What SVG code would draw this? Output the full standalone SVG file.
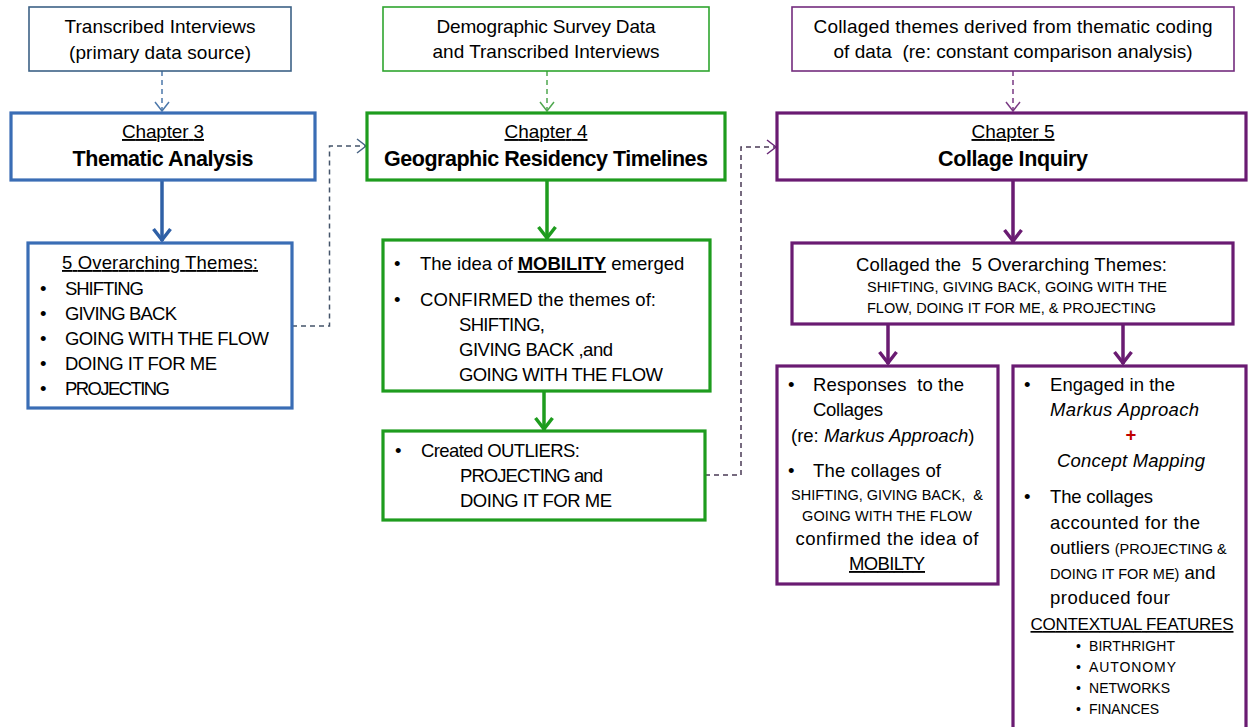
<svg xmlns="http://www.w3.org/2000/svg" width="1249" height="727" viewBox="0 0 1249 727">
<style>
text{font-family:"Liberation Sans",Arial,sans-serif;fill:#000;white-space:pre;}
.t19{font-size:19px;}
.t18{font-size:18.5px;}
.sm{font-size:14.5px;}
.xs{font-size:14px;}
.ttl{font-size:21.5px;font-weight:bold;}
.ch{font-size:19px;}
.c{text-anchor:middle;}
.u{text-decoration:underline;}
.i{font-style:italic;}
.b{font-weight:bold;}
.thinB{fill:#fff;stroke:#3d6286;stroke-width:1.6;}
.thinG{fill:#fff;stroke:#2fa52f;stroke-width:1.6;}
.thinP{fill:#fff;stroke:#742c7e;stroke-width:1.6;}
.boxB{fill:#fff;stroke:#3a6db5;stroke-width:3.2;}
.boxG{fill:#fff;stroke:#1e9c1e;stroke-width:3.2;}
.boxP{fill:#fff;stroke:#6a1b72;stroke-width:3.2;}
.dash{fill:none;stroke-width:1.5;stroke-dasharray:5 4;}
.thick{fill:none;stroke-width:3.5;}
</style>
<defs>
<marker id="vB" markerUnits="userSpaceOnUse" markerWidth="16" markerHeight="16" viewBox="0 0 16 16" refX="14" refY="8" orient="auto"><path d="M5,1 L14,8 L5,15" fill="none" stroke="#4c78ab" stroke-width="1.5"/></marker>
<marker id="vG" markerUnits="userSpaceOnUse" markerWidth="16" markerHeight="16" viewBox="0 0 16 16" refX="14" refY="8" orient="auto"><path d="M5,1 L14,8 L5,15" fill="none" stroke="#4fa84f" stroke-width="1.5"/></marker>
<marker id="vP" markerUnits="userSpaceOnUse" markerWidth="16" markerHeight="16" viewBox="0 0 16 16" refX="14" refY="8" orient="auto"><path d="M5,1 L14,8 L5,15" fill="none" stroke="#7a3a84" stroke-width="1.5"/></marker>
<marker id="vS" markerUnits="userSpaceOnUse" markerWidth="16" markerHeight="16" viewBox="0 0 16 16" refX="14" refY="8" orient="auto"><path d="M5,1 L14,8 L5,15" fill="none" stroke="#4a6585" stroke-width="1.5"/></marker>
<marker id="vD" markerUnits="userSpaceOnUse" markerWidth="16" markerHeight="16" viewBox="0 0 16 16" refX="14" refY="8" orient="auto"><path d="M5,1 L14,8 L5,15" fill="none" stroke="#6a2a78" stroke-width="1.5"/></marker>
<marker id="kB" markerUnits="userSpaceOnUse" markerWidth="24" markerHeight="24" viewBox="0 0 24 24" refX="21" refY="12" orient="auto"><path d="M9,3.5 L20,12 L9,20.5" fill="none" stroke="#2f60a6" stroke-width="3.5"/></marker>
<marker id="kG" markerUnits="userSpaceOnUse" markerWidth="24" markerHeight="24" viewBox="0 0 24 24" refX="21" refY="12" orient="auto"><path d="M9,3.5 L20,12 L9,20.5" fill="none" stroke="#1e9c1e" stroke-width="3.5"/></marker>
<marker id="kP" markerUnits="userSpaceOnUse" markerWidth="24" markerHeight="24" viewBox="0 0 24 24" refX="21" refY="12" orient="auto"><path d="M9,3.5 L20,12 L9,20.5" fill="none" stroke="#6a1b72" stroke-width="3.5"/></marker>
</defs>

<g id="connectors">
<path class="dash" stroke="#4c78ab" d="M162,71 V111" marker-end="url(#vB)"/>
<path class="thick" stroke="#2f60a6" d="M162,181 V241" marker-end="url(#kB)"/>
<path class="dash" stroke="#44546a" d="M292,326 H329.5 V146 H366" marker-end="url(#vS)"/>
<path class="dash" stroke="#4fa84f" d="M547,71 V111" marker-end="url(#vG)"/>
<path class="thick" stroke="#1e9c1e" d="M547,180 V239" marker-end="url(#kG)"/>
<path class="thick" stroke="#1e9c1e" d="M544,392 V430" marker-end="url(#kG)"/>
<path class="dash" stroke="#4a3a55" d="M705,475 H741 V147 H776" marker-end="url(#vD)"/>
<path class="dash" stroke="#7a3a84" d="M1013,71 V111" marker-end="url(#vP)"/>
<path class="thick" stroke="#6a1b72" d="M1013,180 V242" marker-end="url(#kP)"/>
<path class="thick" stroke="#6a1b72" d="M888,324 V364" marker-end="url(#kP)"/>
<path class="thick" stroke="#6a1b72" d="M1123,324 V364" marker-end="url(#kP)"/>
</g>

<g id="src-interviews">
<rect class="thinB" x="29" y="7" width="262" height="64"/>
<text class="t19 c" x="160" y="33" textLength="191">Transcribed Interviews</text>
<text class="t19 c" x="160" y="59" textLength="182">(primary data source)</text>
</g>

<g id="src-demographic">
<rect class="thinG" x="383" y="7" width="326" height="64"/>
<text class="t19 c" x="546" y="33" textLength="219">Demographic Survey Data</text>
<text class="t19 c" x="546" y="58" textLength="227">and Transcribed Interviews</text>
</g>

<g id="src-collaged">
<rect class="thinP" x="792" y="7" width="442" height="64"/>
<text class="t19 c" x="1013" y="33" textLength="399">Collaged themes derived from thematic coding</text>
<text class="t19 c" x="1013" y="58" textLength="359">of data  (re: constant comparison analysis)</text>
</g>

<g id="chapter3">
<rect class="boxB" x="11" y="113" width="304" height="67"/>
<text class="ch c u" x="163" y="138" textLength="82">Chapter 3</text>
<text class="ttl c" x="163" y="166" textLength="181">Thematic Analysis</text>
</g>

<g id="chapter4">
<rect class="boxG" x="367" y="113" width="358" height="67"/>
<text class="ch c u" x="546" y="138" textLength="83">Chapter 4</text>
<text class="ttl c" x="546" y="166" textLength="324">Geographic Residency Timelines</text>
</g>

<g id="chapter5">
<rect class="boxP" x="777" y="113" width="469" height="67"/>
<text class="ch c u" x="1013" y="138" textLength="83">Chapter 5</text>
<text class="ttl c" x="1013" y="166" textLength="150">Collage Inquiry</text>
</g>

<g id="themes">
<rect class="boxB" x="28" y="243" width="264" height="165"/>
<text class="t18 c u" x="160" y="269" textLength="196">5 Overarching Themes:</text>
<text class="t18" x="40" y="295">•</text><text class="t18" x="65" y="295" textLength="79">SHIFTING</text>
<text class="t18" x="40" y="320">•</text><text class="t18" x="65" y="320" textLength="112">GIVING BACK</text>
<text class="t18" x="40" y="345">•</text><text class="t18" x="65" y="345" textLength="204">GOING WITH THE FLOW</text>
<text class="t18" x="40" y="370">•</text><text class="t18" x="65" y="370" textLength="152">DOING IT FOR ME</text>
<text class="t18" x="40" y="395">•</text><text class="t18" x="65" y="395" textLength="105">PROJECTING</text>
</g>

<g id="mobility">
<rect class="boxG" x="383" y="240" width="327" height="151"/>
<text class="t18" x="394" y="270">•</text>
<text class="t18" x="420" y="270">The idea of <tspan class="b u">MOBILITY</tspan> emerged</text>
<text class="t18" x="394" y="306">•</text>
<text class="t18" x="420" y="306" textLength="236">CONFIRMED the themes of:</text>
<text class="t18" x="459" y="331" textLength="86">SHIFTING,</text>
<text class="t18" x="459" y="356" textLength="154">GIVING BACK ,and</text>
<text class="t18" x="459" y="381" textLength="204">GOING WITH THE FLOW</text>
</g>

<g id="outliers">
<rect class="boxG" x="383" y="431" width="322" height="89"/>
<text class="t18" x="395" y="457">•</text>
<text class="t18" x="421" y="457" textLength="159">Created OUTLIERS:</text>
<text class="t18" x="460" y="482" textLength="143">PROJECTING and</text>
<text class="t18" x="460" y="507" textLength="152">DOING IT FOR ME</text>
</g>

<g id="collaged">
<rect class="boxP" x="792" y="243" width="441" height="81"/>
<text class="t18" x="856" y="271" textLength="311">Collaged the  5 Overarching Themes:</text>
<text class="sm" x="867" y="292" textLength="300">SHIFTING, GIVING BACK, GOING WITH THE</text>
<text class="sm" x="867" y="313" textLength="289">FLOW, DOING IT FOR ME, &amp; PROJECTING</text>
</g>

<g id="responses">
<rect class="boxP" x="777" y="366" width="221" height="218"/>
<text class="t18" x="788" y="391">•</text>
<text class="t18" x="813" y="391" textLength="151">Responses  to the</text>
<text class="t18" x="813" y="416" textLength="70">Collages</text>
<text class="t18" x="791" y="442">(re: <tspan class="i">Markus Approach</tspan>)</text>
<text class="t18" x="788" y="477">•</text>
<text class="t18" x="813" y="477" textLength="128">The collages of</text>
<text class="sm c" x="887" y="500" textLength="192">SHIFTING, GIVING BACK,  &amp;</text>
<text class="sm c" x="887" y="521" textLength="170">GOING WITH THE FLOW</text>
<text class="t18 c" x="887" y="545" textLength="183">confirmed the idea of</text>
<text class="t18 c u" x="887" y="570" textLength="76">MOBILTY</text>
</g>

<g id="engaged">
<rect class="boxP" x="1013" y="366" width="233" height="370"/>
<text class="t18" x="1024" y="391">•</text>
<text class="t18" x="1050" y="391" textLength="125">Engaged in the</text>
<text class="t18 i" x="1050" y="416" textLength="149">Markus Approach</text>
<text class="t18 b c" x="1131" y="441" style="fill:#c00000">+</text>
<text class="t18 i c" x="1131" y="467" textLength="148">Concept Mapping</text>
<text class="t18" x="1024" y="503">•</text>
<text class="t18" x="1050" y="503" textLength="103">The collages</text>
<text class="t18" x="1050" y="529" textLength="150">accounted for the</text>
<text class="t18" x="1050" y="554">outliers <tspan class="sm">(PROJECTING &amp;</tspan></text>
<text class="t18" x="1050" y="579"><tspan class="sm">DOING IT FOR ME)</tspan> and</text>
<text class="t18" x="1050" y="604" textLength="120">produced four</text>
<text class="c u" style="font-size:17px" x="1132" y="630" textLength="203">CONTEXTUAL FEATURES</text>
<text class="xs" x="1076" y="651">•</text><text class="xs" x="1089" y="651" textLength="86">BIRTHRIGHT</text>
<text class="xs" x="1076" y="672">•</text><text class="xs" x="1089" y="672" textLength="87">AUTONOMY</text>
<text class="xs" x="1076" y="693">•</text><text class="xs" x="1089" y="693" textLength="81">NETWORKS</text>
<text class="xs" x="1076" y="714">•</text><text class="xs" x="1089" y="714" textLength="70">FINANCES</text>
</g>
</svg>
